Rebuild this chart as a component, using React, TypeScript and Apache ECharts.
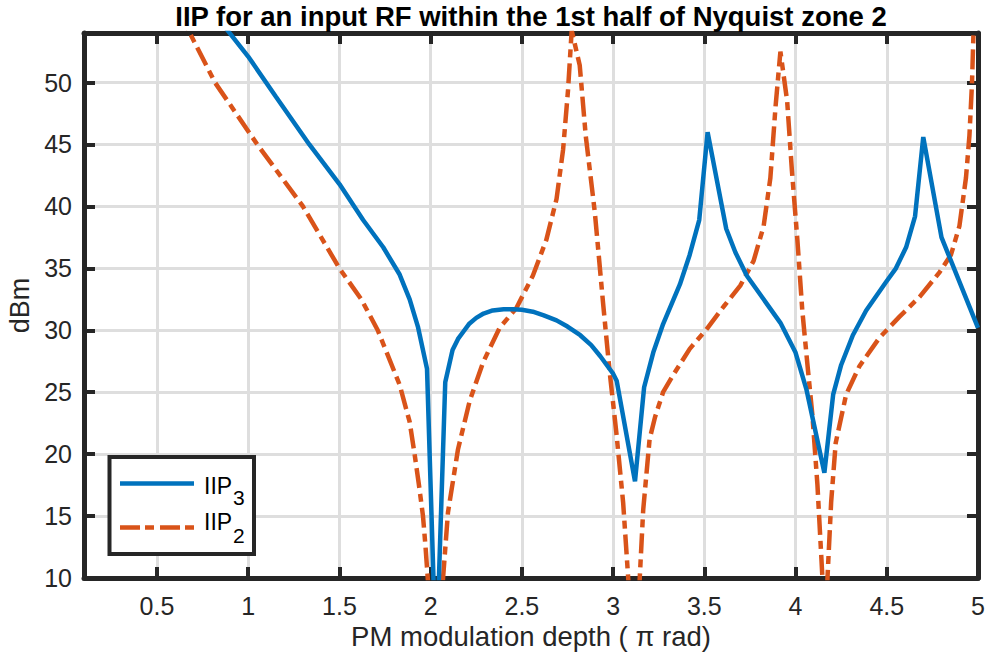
import React, { useEffect, useRef } from "react";
import * as echarts from "echarts";

const titleText = "IIP for an input RF within the 1st half of Nyquist zone 2";
const xAxisName = "PM modulation depth ( π rad)";
const yAxisName = "dBm";
const xTicks = [0.5, 1, 1.5, 2, 2.5, 3, 3.5, 4, 4.5, 5];
const yTicks = [10, 15, 20, 25, 30, 35, 40, 45, 50];
const xMin = 0.1;
const xMax = 5;
const yMin = 10;
const yMax = 54;

const legendMain = ["IIP", "IIP"];
const legendSub = ["3", "2"];

// IIP3 (solid blue)
const iip3X = [
  0.85, 1.0, 1.15, 1.335, 1.5, 1.63, 1.74, 1.83, 1.885, 1.93, 1.98, 2.03, 2.08,
  2.12, 2.15, 2.18, 2.21, 2.25, 2.29, 2.34, 2.4, 2.45, 2.5, 2.56, 2.62, 2.69,
  2.75, 2.82, 2.88, 2.93, 2.96, 3.0, 3.02, 3.12, 3.17,
  3.22, 3.274, 3.366, 3.42, 3.472, 3.518, 3.62, 3.67, 3.733, 3.825, 3.917, 4.0,
  4.06, 4.158, 4.206, 4.25, 4.314, 4.387, 4.496, 4.55, 4.606, 4.655, 4.7, 4.8,
  4.852, 5.0,
];
const iip3Y = [
  54.9, 52.1, 48.9, 45.0, 41.8, 38.9, 36.7, 34.5, 32.5, 30.3, 26.9, 3.0, 25.8,
  28.4, 29.3, 29.9, 30.5, 31.0, 31.35, 31.6, 31.7, 31.7, 31.65, 31.5, 31.2, 30.8,
  30.3, 29.6, 28.8, 27.9, 27.3, 26.5, 25.9, 17.8, 25.4,
  28.2, 30.5, 33.7, 36.1, 38.9, 46.0, 38.2, 36.3, 34.4, 32.5, 30.6, 28.2,
  25.2, 18.5, 24.8, 27.2, 29.6, 31.6, 33.9, 35.0, 36.7, 39.2, 45.6, 37.5,
  35.6, 30.2,
];

// IIP2 (dash-dot red)
const iip2X = [
  0.62, 0.68, 0.818, 1.05, 1.3, 1.5, 1.62, 1.71, 1.83, 1.885, 1.912, 1.935,
  1.958, 1.972, 1.985, 2.025, 2.068, 2.095, 2.15, 2.214, 2.287, 2.378, 2.47,
  2.56, 2.634, 2.69, 2.726, 2.753, 2.773, 2.817, 2.85, 2.9, 2.945, 2.98, 3.018,
  3.055, 3.085, 3.115, 3.146, 3.165, 3.2, 3.23, 3.274, 3.33, 3.42, 3.513,
  3.605, 3.697, 3.77, 3.825, 3.862, 3.89, 3.917, 3.954, 3.98, 4.01, 4.037,
  4.064, 4.092, 4.12, 4.15, 4.162, 4.175, 4.195, 4.22, 4.277, 4.35, 4.46, 4.57,
  4.68, 4.79, 4.852, 4.898, 4.934, 4.953, 4.967, 4.975, 4.985,
];
const iip2Y = [
  55.7, 54.0, 50.0, 45.0, 40.0, 35.0, 32.5, 30.0, 25.6, 22.6, 20.0, 17.6,
  15.0, 12.5, 9.8, -5.0, 10.0, 15.3, 20.4, 24.3, 27.4, 30.2, 31.8,
  34.4, 37.3, 40.6, 44.6, 49.4, 54.2, 51.4, 45.7, 39.5, 32.2, 26.8, 21.7,
  16.1, 9.5, -5.0, 10.0, 15.5, 21.2, 23.0, 25.0, 26.4, 28.5, 30.1,
  31.9, 33.6, 35.6, 38.4, 42.3, 48.0, 52.5, 48.5, 42.9, 37.3, 31.6,
  27.4, 23.2, 17.5, 9.3, 4.0, 10.0, 16.1, 20.9, 24.8, 27.1, 29.4, 31.1,
  32.7, 34.7, 36.1, 38.4, 42.3, 45.7, 49.9, 53.9, 56.0,
];

const FONT = "'Liberation Sans', Arial, Helvetica, sans-serif";
const AX = "#262626";
const BLUE = "#0072BD";
const RED = "#D95319";
const GRIDC = "#dedede";
const DASH = [20, 6, 8, 6];

function zip(xs: number[], ys: number[]) {
  return xs.map((x, i) => [x, ys[i]]);
}

export default function App() {
  const ref = useRef<HTMLDivElement>(null);
  useEffect(() => {
    if (!ref.current) return;
    const chart = echarts.init(ref.current, undefined, { renderer: "svg" });
    const axisLine = { show: true, onZero: false, lineStyle: { color: AX, width: 5 } };
    const tick = (vals: number[]) => ({
      show: true,
      inside: true,
      length: 11,
      lineStyle: { color: AX, width: 4 },
      customValues: vals,
    });
    const option: any = {
      animation: false,
      backgroundColor: "#ffffff",
      title: {
        text: titleText,
        left: 531,
        top: 2,
        padding: 0,
        textAlign: "center",
        textStyle: { fontFamily: FONT, fontSize: 27.5, fontWeight: "bold", color: "#000" },
      },
      grid: { left: 84, right: 12, top: 33, bottom: 84, outerBoundsMode: "none" },
      xAxis: [
        {
          type: "value",
          min: xMin,
          max: xMax,
          position: "bottom",
          axisLine,
          axisTick: tick(xTicks),
          axisLabel: {
            show: true,
            customValues: xTicks,
            margin: 15,
            fontSize: 25,
            color: AX,
            fontFamily: FONT,
          },
          splitLine: { show: true, lineStyle: { color: GRIDC, width: 3 } },
          name: xAxisName,
          nameLocation: "middle",
          nameGap: 44,
          nameTextStyle: { fontSize: 27.5, color: AX, fontFamily: FONT },
        },
        {
          type: "value",
          min: xMin,
          max: xMax,
          position: "top",
          axisLine,
          axisTick: tick(xTicks),
          axisLabel: { show: false },
          splitLine: { show: false },
        },
      ],
      yAxis: [
        {
          type: "value",
          min: yMin,
          max: yMax,
          position: "left",
          axisLine,
          axisTick: tick(yTicks),
          axisLabel: {
            show: true,
            customValues: yTicks,
            margin: 12,
            fontSize: 25,
            color: AX,
            fontFamily: FONT,
          },
          splitLine: { show: true, lineStyle: { color: GRIDC, width: 3 } },
          name: yAxisName,
          nameLocation: "middle",
          nameGap: 42,
          nameTextStyle: { fontSize: 27, color: AX, fontFamily: FONT },
        },
        {
          type: "value",
          min: yMin,
          max: yMax,
          position: "right",
          axisLine,
          axisTick: tick(yTicks),
          axisLabel: { show: false },
          splitLine: { show: false },
        },
      ],
      series: [
        {
          name: "IIP3",
          type: "line",
          xAxisIndex: 0,
          yAxisIndex: 0,
          data: zip(iip3X, iip3Y),
          showSymbol: false,
          symbol: "none",
          clip: true,
          lineStyle: { color: BLUE, width: 4.5 },
          z: 3,
        },
        {
          name: "IIP2",
          type: "line",
          xAxisIndex: 0,
          yAxisIndex: 0,
          data: zip(iip2X, iip2Y),
          showSymbol: false,
          symbol: "none",
          clip: true,
          lineStyle: { color: RED, width: 4.5, type: DASH },
          z: 2,
        },
      ],
      graphic: [
        {
          type: "rect",
          z: 100,
          shape: { x: 109.5, y: 457, width: 144.5, height: 97 },
          style: { fill: "#ffffff", stroke: AX, lineWidth: 4 },
        },
        {
          type: "line",
          z: 101,
          shape: { x1: 120, y1: 483.5, x2: 194, y2: 483.5 },
          style: { stroke: BLUE, lineWidth: 4.5 },
        },
        {
          type: "line",
          z: 101,
          shape: { x1: 120, y1: 527.5, x2: 194, y2: 527.5 },
          style: { stroke: RED, lineWidth: 4.5, lineDash: [20, 5, 9, 6] },
        },
        {
          type: "text",
          z: 101,
          x: 204,
          y: 485.5,
          style: { text: legendMain[0], fontSize: 23, fontFamily: FONT, fill: "#000", align: "left", verticalAlign: "middle" },
        },
        {
          type: "text",
          z: 101,
          x: 233,
          y: 497,
          style: { text: legendSub[0], fontSize: 21, fontFamily: FONT, fill: "#000", align: "left", verticalAlign: "middle" },
        },
        {
          type: "text",
          z: 101,
          x: 204,
          y: 521.5,
          style: { text: legendMain[1], fontSize: 23, fontFamily: FONT, fill: "#000", align: "left", verticalAlign: "middle" },
        },
        {
          type: "text",
          z: 101,
          x: 233,
          y: 535.5,
          style: { text: legendSub[1], fontSize: 21, fontFamily: FONT, fill: "#000", align: "left", verticalAlign: "middle" },
        },
      ],
    };
    chart.setOption(option);
    return () => chart.dispose();
  }, []);
  return (
    <div
      ref={ref}
      style={{ position: "fixed", left: 0, top: 0, width: 990, height: 662, background: "#fff" }}
    />
  );
}
